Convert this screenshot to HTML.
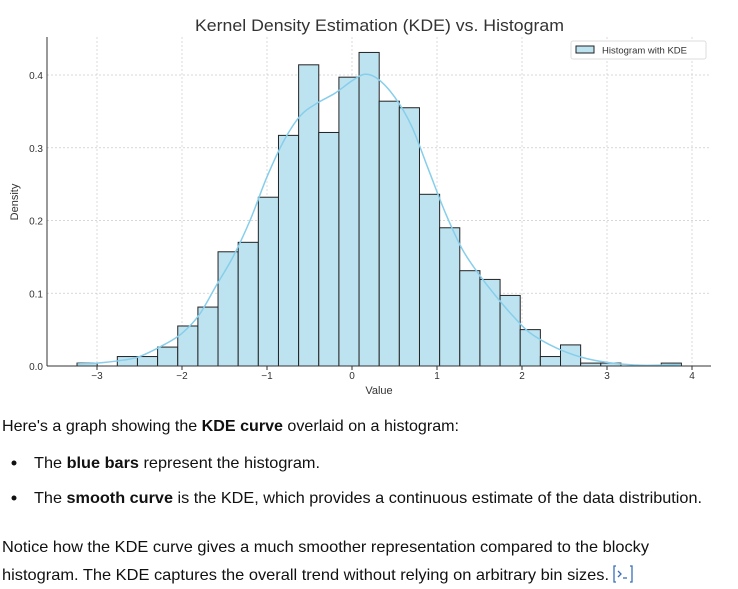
<!DOCTYPE html>
<html><head><meta charset="utf-8"><style>
html,body{margin:0;padding:0;background:#fff;width:738px;height:589px;overflow:hidden}
svg{display:block}
text{font-family:"Liberation Sans",sans-serif}
</style></head><body>
<svg id="chart" width="738" height="589" viewBox="0 0 738 589">
<text x="195" y="31" font-size="17" fill="#333" textLength="369" lengthAdjust="spacingAndGlyphs">Kernel Density Estimation (KDE) vs. Histogram</text>
<g id="grid"></g>
<g id="bars"></g>
<path id="kde" fill="none" stroke="#87ceeb" stroke-width="1.5"/>
<g id="axes"></g>
<g>
<rect x="571" y="41" width="135" height="18" fill="#fff" stroke="#ddd" rx="2"/>
<rect x="576" y="46" width="18" height="7" fill="#bde3f0" stroke="#222" stroke-width="1"/>
<text x="602" y="53.5" font-size="9.5" fill="#333">Histogram with KDE</text>
</g>
<text transform="translate(18,202) rotate(-90)" font-size="11" fill="#333" text-anchor="middle">Density</text>
<text x="379" y="394" font-size="11" fill="#333" text-anchor="middle">Value</text>

<g font-size="16" fill="#111">
<text x="2" y="431" textLength="457" lengthAdjust="spacingAndGlyphs">Here's a graph showing the <tspan font-weight="bold">KDE curve</tspan> overlaid on a histogram:</text>
<circle cx="14" cy="463" r="2.5" fill="#111"/>
<text x="34" y="468" textLength="286" lengthAdjust="spacingAndGlyphs">The <tspan font-weight="bold">blue bars</tspan> represent the histogram.</text>
<circle cx="14" cy="498" r="2.5" fill="#111"/>
<text x="34" y="503" textLength="668" lengthAdjust="spacingAndGlyphs">The <tspan font-weight="bold">smooth curve</tspan> is the KDE, which provides a continuous estimate of the data distribution.</text>
<text x="2" y="552" textLength="647" lengthAdjust="spacingAndGlyphs">Notice how the KDE curve gives a much smoother representation compared to the blocky</text>
<text x="2" y="580" textLength="607" lengthAdjust="spacingAndGlyphs">histogram. The KDE captures the overall trend without relying on arbitrary bin sizes.</text>
</g>
<g stroke="#3b6fb6" fill="none" stroke-width="1.3">
<path d="M616 566 h-2 v16 h2"/><path d="M630 566 h2 v16 h-2"/><path d="M618 571 l3 3 l-3 3"/><path d="M623 578 h4"/>
</g>
</svg>
<script>
const binStart = -3.235;
const binWidth = 0.237;
const binDensities = [0.004,0,0.013,0.013,0.026,0.055,0.081,0.157,0.170,0.232,0.317,0.414,0.321,0.397,0.431,0.364,0.355,0.236,0.190,0.131,0.119,0.097,0.050,0.013,0.029,0.004,0.004,0,0,0.004];
const kdeX = [-3.23,-3.0,-2.7,-2.5,-2.2,-2.0,-1.8,-1.6,-1.4,-1.2,-1.0,-0.8,-0.6,-0.4,-0.2,0,0.15,0.3,0.5,0.7,0.9,1.1,1.3,1.5,1.7,1.9,2.1,2.4,2.7,3.0,3.4,3.87];
const kdeY = [0.003,0.004,0.008,0.013,0.03,0.045,0.07,0.11,0.15,0.2,0.26,0.31,0.345,0.362,0.375,0.392,0.401,0.395,0.37,0.33,0.27,0.21,0.16,0.125,0.095,0.068,0.045,0.025,0.012,0.005,0.001,0.002];
const xTicks = [-3,-2,-1,0,1,2,3,4];
const yTicks = [0,0.1,0.2,0.3,0.4];
const yTickLabels = ["0.0","0.1","0.2","0.3","0.4"];

const NS="http://www.w3.org/2000/svg";
const X0=47,X1=711,Y0=366,Y1=37;
const sx=v=>352+v*85;
const sy=v=>366-v*727.5;
function mk(tag,attrs,parent){const e=document.createElementNS(NS,tag);for(const k in attrs)e.setAttribute(k,attrs[k]);parent.appendChild(e);return e;}
const grid=document.getElementById('grid'),bars=document.getElementById('bars'),axes=document.getElementById('axes');
xTicks.forEach(t=>{
  const l=mk('line',{x1:sx(t),x2:sx(t),y1:Y1,y2:Y0,stroke:'#ccc','stroke-dasharray':'2,2','stroke-width':0.7},grid);
  
  
  const tk=mk('line',{x1:sx(t),x2:sx(t),y1:Y0,y2:Y0+4,stroke:'#333'},axes);
  
  
  const tx=mk('text',{x:sx(t),y:Y0+13,'font-size':10,fill:'#333','text-anchor':'middle'},axes);
  tx.textContent=(t<0?'\u2212'+(-t):String(t));
  
  
});
yTicks.forEach((t,i)=>{
  const l=mk('line',{x1:X0,x2:X1,y1:sy(t),y2:sy(t),stroke:'#ccc','stroke-dasharray':'2,2','stroke-width':0.7},grid);
  
  
  const tx=mk('text',{x:X0-4,y:sy(t)+4,'font-size':10,fill:'#333','text-anchor':'end'},axes);
  tx.textContent=yTickLabels[i];
  
  
});
binDensities.forEach((d,i)=>{
  if(d<=0)return;
  const a=binStart+i*binWidth;
  const r=mk('rect',{x:sx(a),y:sy(d),width:binWidth*85,height:Y0-sy(d),fill:'#bde3f0',stroke:'#222','stroke-width':1},bars);
  
  
});
mk('line',{x1:X0,x2:X0,y1:Y1,y2:Y0,stroke:'#333'},axes);
mk('line',{x1:X0,x2:X1,y1:Y0,y2:Y0,stroke:'#333'},axes);
const P=kdeX.map((x,i)=>[sx(x),sy(kdeY[i])]);
let d='M'+P[0][0]+','+P[0][1];
for(let i=0;i<P.length-1;i++){
  const p0=P[i-1]||P[i],p1=P[i],p2=P[i+1],p3=P[i+2]||p2;
  d+=' C'+(p1[0]+(p2[0]-p0[0])/6)+','+(p1[1]+(p2[1]-p0[1])/6)+' '+(p2[0]-(p3[0]-p1[0])/6)+','+(p2[1]-(p3[1]-p1[1])/6)+' '+p2[0]+','+p2[1];
}
document.getElementById('kde').setAttribute('d',d);
</script>
</body></html>
